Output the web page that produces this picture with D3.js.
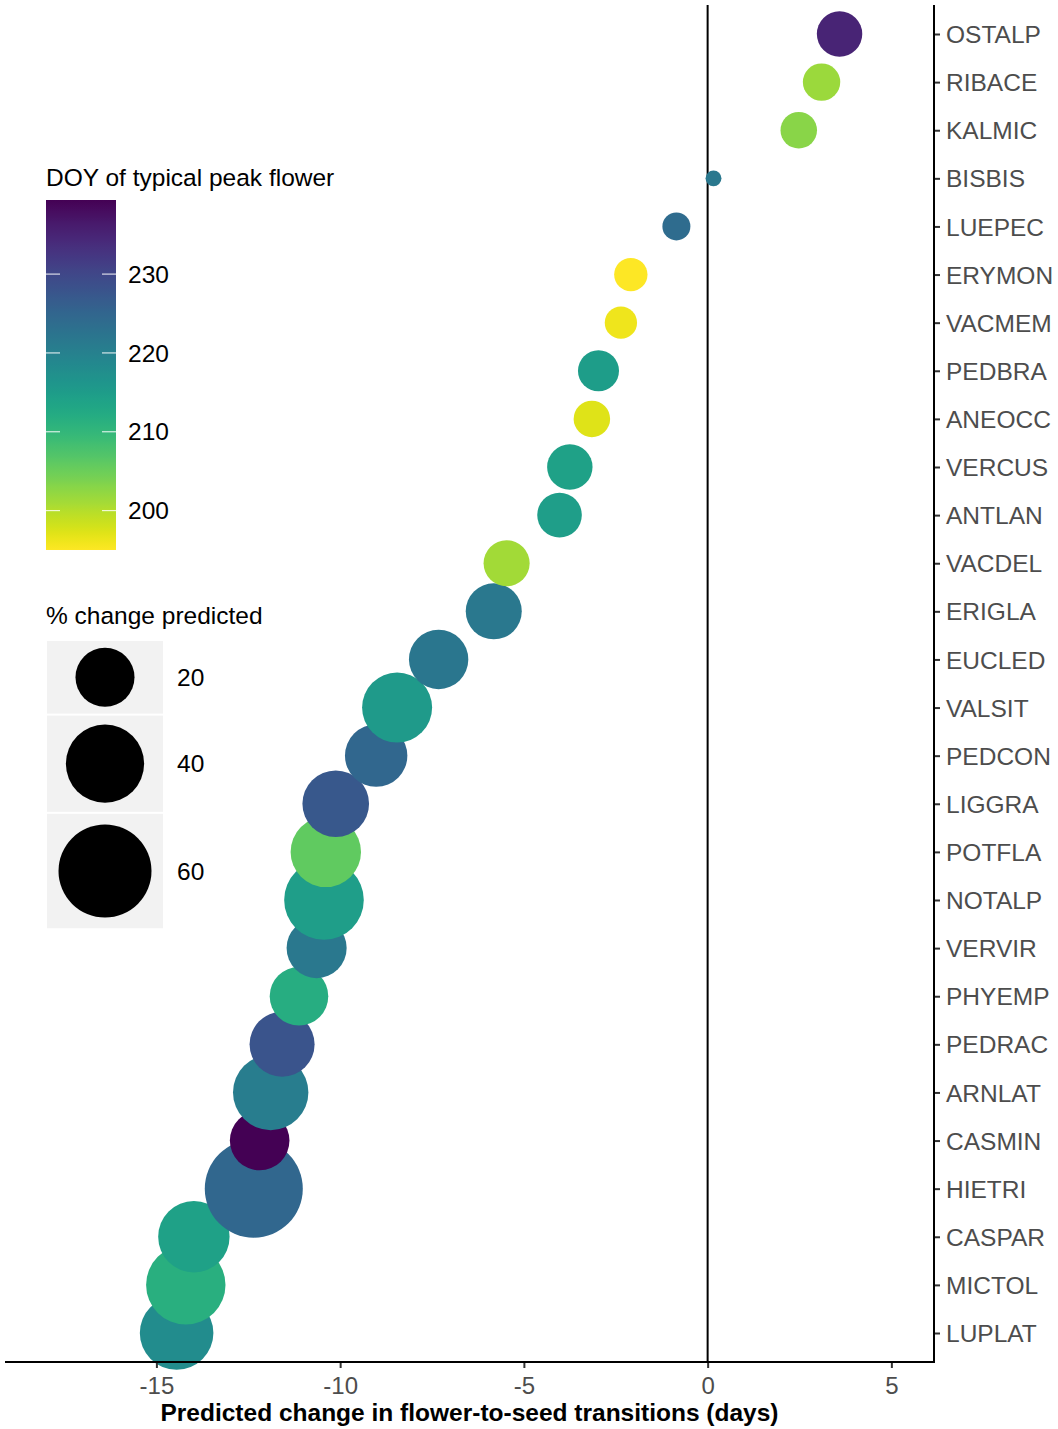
<!DOCTYPE html>
<html>
<head>
<meta charset="utf-8">
<script src="https://cdn.jsdelivr.net/npm/d3@7"></script>
<style>
  html, body { margin: 0; padding: 0; background: #fff; }
  svg { display: block; font-family: "Liberation Sans", Arial, Helvetica, sans-serif; }
</style>
</head>
<body>
<svg id="chart" width="1058" height="1429"></svg>
<script>
// Species codes, listed top to bottom
const species = ["OSTALP","RIBACE","KALMIC","BISBIS","LUEPEC","ERYMON","VACMEM","PEDBRA",
  "ANEOCC","VERCUS","ANTLAN","VACDEL","ERIGLA","EUCLED","VALSIT","PEDCON","LIGGRA","POTFLA",
  "NOTALP","VERVIR","PHYEMP","PEDRAC","ARNLAT","CASMIN","HIETRI","CASPAR","MICTOL","LUPLAT"];

// Predicted change in flower-to-seed transitions (days)
const change = [3.59, 3.10, 2.48, 0.16, -0.85, -2.09, -2.36, -2.97,
  -3.15, -3.75, -4.03, -5.47, -5.82, -7.32, -8.45, -9.02, -10.12, -10.39,
  -10.44, -10.64, -11.12, -11.58, -11.89, -12.19, -12.35, -13.98, -14.20, -14.45];

// Percent change predicted
const pctChange = [10.0, 5.7, 5.3, 0.1, 2.2, 4.0, 3.6, 7.5,
  5.3, 10.0, 9.5, 10.4, 17.5, 20.3, 30.6, 23.0, 27.1, 31.0,
  41.7, 20.9, 19.6, 25.5, 36.6, 20.5, 67.7, 32.1, 41.4, 34.5];

// Day of year of typical peak flower
const peakDOY = [235.0, 201.6, 202.9, 221.6, 223.8, 195.0, 196.2, 214.9,
  197.1, 214.0, 214.7, 201.1, 221.6, 222.0, 215.4, 224.7, 227.4, 205.8,
  214.7, 221.6, 211.8, 227.8, 220.7, 239.4, 224.7, 214.0, 211.4, 218.0];

const xTicks = [-15, -10, -5, 0, 5];
const colourTicks = [200, 210, 220, 230];
const sizeBreaks = [20, 40, 60];

const data = species.map((s, i) => ({ sp: s, x: change[i], pct: pctChange[i], doy: peakDOY[i] }));

const svg = d3.select("#chart");
const panel = { left: 5, right: 934, top: 5, bottom: 1362 };

const x = d3.scaleLinear().domain([-19.12, 6.16]).range([panel.left, panel.right]);
const y = d3.scalePoint().domain(species).range([34, 1333]);

// point area grows with the square root of the value
const sizeRoot = d3.scaleLinear().domain([0, Math.sqrt(60)]).range([6.3, 6.3 + 5.19 * Math.sqrt(60)]);
const radius = v => sizeRoot(Math.sqrt(v));

const colour = d3.scaleSequential(d3.interpolateViridis).domain([d3.max(peakDOY), d3.min(peakDOY)]);

// zero reference line
svg.append("line")
  .attr("x1", x(0)).attr("x2", x(0))
  .attr("y1", panel.top).attr("y2", panel.bottom)
  .attr("stroke", "#000").attr("stroke-width", 2);

// points, drawn from the bottom row upward
svg.append("g").selectAll("circle")
  .data(data.slice().reverse())
  .join("circle")
  .attr("cx", d => x(d.x))
  .attr("cy", d => y(d.sp))
  .attr("r", d => radius(d.pct))
  .attr("fill", d => colour(d.doy));

// bottom axis
const xAxis = svg.append("g")
  .attr("transform", `translate(0,${panel.bottom})`)
  .call(d3.axisBottom(x).tickValues(xTicks).tickSize(6).tickPadding(9).tickFormat(d => String(d)));
xAxis.select(".domain").remove();
xAxis.selectAll(".tick line").attr("stroke", "#333").attr("stroke-width", 2);
xAxis.selectAll(".tick text").attr("fill", "#4d4d4d").attr("font-size", "24px")
  .attr("font-family", "Liberation Sans, Arial, sans-serif");
svg.append("line")
  .attr("x1", panel.left).attr("x2", panel.right + 1)
  .attr("y1", panel.bottom).attr("y2", panel.bottom)
  .attr("stroke", "#000").attr("stroke-width", 2);

// right axis with species labels
const yAxis = svg.append("g")
  .attr("transform", `translate(${panel.right},0)`)
  .call(d3.axisRight(y).tickSize(6).tickPadding(6));
yAxis.select(".domain").remove();
yAxis.selectAll(".tick line").attr("stroke", "#333").attr("stroke-width", 2);
yAxis.selectAll(".tick text").attr("fill", "#4d4d4d").attr("font-size", "24.5px")
  .attr("dy", "0.35em")
  .attr("font-family", "Liberation Sans, Arial, sans-serif");
svg.append("line")
  .attr("x1", panel.right).attr("x2", panel.right)
  .attr("y1", panel.top).attr("y2", panel.bottom + 1)
  .attr("stroke", "#000").attr("stroke-width", 2);

// x axis title
svg.append("text")
  .attr("x", (panel.left + panel.right) / 2).attr("y", 1421)
  .attr("text-anchor", "middle")
  .attr("font-size", "24.5px").attr("font-weight", "bold").attr("fill", "#000")
  .text("Predicted change in flower-to-seed transitions (days)");

// colour legend
const cb = { x: 46, w: 70, top: 200, bottom: 550 };
svg.append("text").attr("x", 46).attr("y", 186)
  .attr("font-size", "24.5px").attr("fill", "#000").text("DOY of typical peak flower");
const cbY = d3.scaleLinear().domain(d3.extent(peakDOY)).range([cb.bottom, cb.top]);
const grad = svg.append("defs").append("linearGradient")
  .attr("id", "doyGradient").attr("x1", 0).attr("x2", 0).attr("y1", 1).attr("y2", 0);
const stopCount = 60;
grad.selectAll("stop")
  .data(d3.range(stopCount + 1).map(i => i / stopCount))
  .join("stop")
  .attr("offset", t => t)
  .attr("stop-color", t => colour(cbY.invert(cb.bottom - t * (cb.bottom - cb.top))));
svg.append("rect")
  .attr("x", cb.x).attr("y", cb.top).attr("width", cb.w).attr("height", cb.bottom - cb.top)
  .attr("fill", "url(#doyGradient)");
const cbTicks = svg.append("g");
colourTicks.forEach(v => {
  const ty = cbY(v);
  cbTicks.append("line").attr("x1", cb.x).attr("x2", cb.x + 14).attr("y1", ty).attr("y2", ty)
    .attr("stroke", "#fff").attr("stroke-opacity", 0.8).attr("stroke-width", 1.2);
  cbTicks.append("line").attr("x1", cb.x + cb.w - 14).attr("x2", cb.x + cb.w).attr("y1", ty).attr("y2", ty)
    .attr("stroke", "#fff").attr("stroke-opacity", 0.8).attr("stroke-width", 1.2);
  cbTicks.append("text").attr("x", 128).attr("y", ty).attr("dy", "0.35em")
    .attr("font-size", "24.5px").attr("fill", "#000").text(v);
});

// size legend
svg.append("text").attr("x", 46).attr("y", 624)
  .attr("font-size", "24.5px").attr("fill", "#000").text("% change predicted");
const keyW = 116;
let keyTop = 641;
const sizeKeys = svg.append("g");
sizeBreaks.forEach((v, i) => {
  const r = radius(v);
  const h = Math.max(2 * r * 1.23, 2 * r + 12);
  const cy = keyTop + h / 2;
  sizeKeys.append("rect").attr("x", 47).attr("y", keyTop).attr("width", keyW).attr("height", h)
    .attr("fill", "#f2f2f2");
  sizeKeys.append("circle").attr("cx", 47 + keyW / 2).attr("cy", cy).attr("r", r).attr("fill", "#000");
  sizeKeys.append("text").attr("x", 177).attr("y", cy).attr("dy", "0.35em")
    .attr("font-size", "24.5px").attr("fill", "#000").text(v);
  keyTop += h + 2;
});
</script>
</body>
</html>
